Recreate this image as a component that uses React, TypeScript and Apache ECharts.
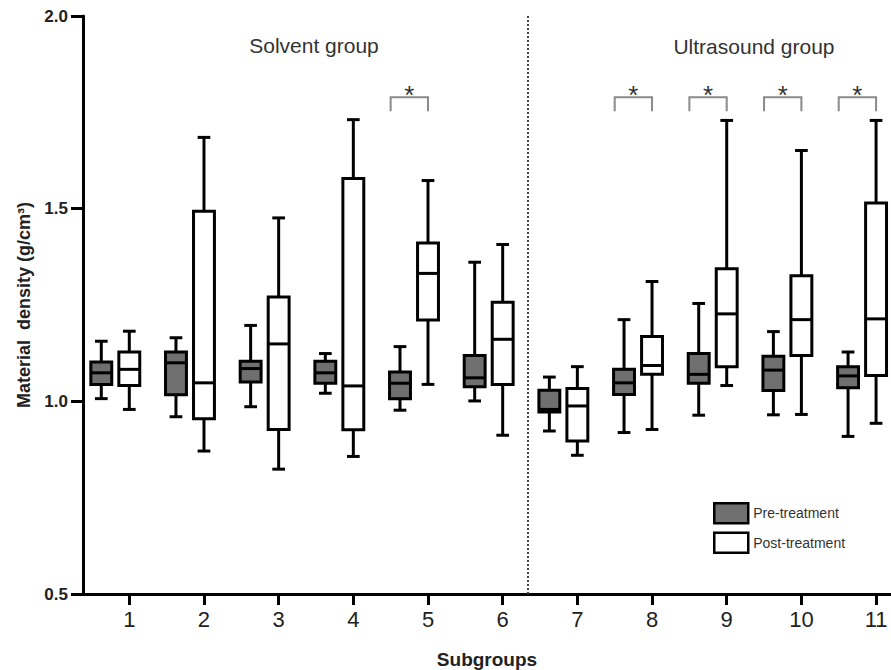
import React, { useEffect, useRef } from "react";
import * as echarts from "echarts";

// Subgroup numbers (x axis)
const categories = [1, 2, 3, 4, 5, 6, 7, 8, 9, 10, 11];
// [min, Q1, median, Q3, max] per subgroup
const preStats = [
  [1.007, 1.044, 1.074, 1.102, 1.156],
  [0.960, 1.017, 1.100, 1.128, 1.165],
  [0.986, 1.050, 1.085, 1.104, 1.197],
  [1.021, 1.047, 1.074, 1.104, 1.124],
  [0.977, 1.007, 1.047, 1.076, 1.142],
  [1.001, 1.038, 1.061, 1.119, 1.361],
  [0.923, 0.972, 0.979, 1.029, 1.063],
  [0.919, 1.018, 1.048, 1.083, 1.212],
  [0.964, 1.047, 1.070, 1.124, 1.254],
  [0.965, 1.028, 1.081, 1.117, 1.181],
  [0.909, 1.035, 1.066, 1.090, 1.128],
];
const postStats = [
  [0.979, 1.041, 1.083, 1.128, 1.182],
  [0.871, 0.955, 1.048, 1.493, 1.685],
  [0.824, 0.927, 1.149, 1.271, 1.476],
  [0.857, 0.926, 1.040, 1.578, 1.731],
  [1.044, 1.211, 1.332, 1.411, 1.573],
  [0.912, 1.044, 1.161, 1.257, 1.407],
  [0.860, 0.897, 0.988, 1.033, 1.090],
  [0.927, 1.070, 1.093, 1.168, 1.311],
  [1.041, 1.090, 1.227, 1.344, 1.729],
  [0.966, 1.119, 1.212, 1.326, 1.651],
  [0.943, 1.067, 1.214, 1.515, 1.729],
];
const significantGroups = [5, 8, 9, 10, 11];
const seriesNames = ["Pre-treatment", "Post-treatment"];
const groupTitles = ["Solvent group", "Ultrasound group"];

const FONT = "'Liberation Sans', Arial, Helvetica, sans-serif";
const PRE_FILL = "#6f6f6f";

function makeBoxRenderer(offset: number, fill: string) {
  return (_params: any, api: any) => {
    const x = api.value(0) + offset;
    const lo = api.coord([x, api.value(1)]);
    const q1 = api.coord([x, api.value(2)]);
    const med = api.coord([x, api.value(3)]);
    const q3 = api.coord([x, api.value(4)]);
    const hi = api.coord([x, api.value(5)]);
    const halfW = api.size([0.14, 0])[0];
    const capW = api.size([0.085, 0])[0];
    const cx = lo[0];
    const stroke = { stroke: "#000", lineWidth: 3 };
    return {
      type: "group",
      children: [
        { type: "line", shape: { x1: cx, y1: hi[1], x2: cx, y2: q3[1] }, style: stroke },
        { type: "line", shape: { x1: cx, y1: q1[1], x2: cx, y2: lo[1] }, style: stroke },
        { type: "line", shape: { x1: cx - capW, y1: hi[1], x2: cx + capW, y2: hi[1] }, style: stroke },
        { type: "line", shape: { x1: cx - capW, y1: lo[1], x2: cx + capW, y2: lo[1] }, style: stroke },
        {
          type: "rect",
          shape: { x: cx - halfW, y: q3[1], width: 2 * halfW, height: q1[1] - q3[1] },
          style: { fill, stroke: "#000", lineWidth: 3 },
        },
        { type: "line", shape: { x1: cx - halfW, y1: med[1], x2: cx + halfW, y2: med[1] }, style: stroke },
      ],
    };
  };
}

function renderBracket(_params: any, api: any) {
  const c = api.value(0);
  const l = api.coord([c - 0.5, 1.789]);
  const r = api.coord([c, 1.789]);
  const drop = 14;
  return {
    type: "group",
    children: [
      {
        type: "polyline",
        shape: { points: [[l[0], l[1] + drop], [l[0], l[1]], [r[0], r[1]], [r[0], r[1] + drop]] },
        style: { stroke: "#8a8a8a", lineWidth: 2, fill: "none" },
      },
      {
        type: "text",
        style: {
          text: "*",
          x: (l[0] + r[0]) / 2,
          y: l[1] - 2,
          align: "center",
          verticalAlign: "middle",
          textAlign: "center",
          textVerticalAlign: "middle",
          fontSize: 26,
          fontFamily: FONT,
          fill: "#333",
        },
      },
    ],
  };
}

export default function App() {
  const ref = useRef<HTMLDivElement>(null);
  useEffect(() => {
    if (!ref.current) return;
    const chart = echarts.init(ref.current, undefined, { renderer: "svg" });
    const preData = categories.map((c, i) => [c, ...preStats[i]]);
    const postData = categories.map((c, i) => [c, ...postStats[i]]);
    const option: any = {
      animation: false,
      backgroundColor: "#fff",
      grid: { left: 83, right: 0, top: 16, bottom: 76, containLabel: false, outerBoundsMode: "none" },
      xAxis: {
        type: "value",
        min: 0.38,
        max: 11.2,
        name: "Subgroups",
        nameLocation: "middle",
        nameGap: 56,
        nameTextStyle: { fontFamily: FONT, fontSize: 19, fontWeight: "bold", color: "#222" },
        axisLine: { onZero: false, lineStyle: { color: "#000", width: 3 } },
        axisTick: { show: true, length: 11, lineStyle: { color: "#000", width: 3 }, customValues: categories },
        axisLabel: {
          customValues: categories,
          margin: 14,
          fontFamily: FONT,
          fontSize: 22,
          color: "#222",
          formatter: (v: number) => String(v),
        },
        splitLine: { show: false },
      },
      yAxis: {
        type: "value",
        min: 0.5,
        max: 2.0,
        interval: 0.5,
        name: "Material  density (g/cm³)",
        nameLocation: "middle",
        nameGap: 50,
        nameTextStyle: { fontFamily: FONT, fontSize: 18, fontWeight: "bold", color: "#222" },
        axisLine: { onZero: false, lineStyle: { color: "#000", width: 3 } },
        axisTick: { show: true, length: 12, lineStyle: { color: "#000", width: 3 } },
        axisLabel: {
          margin: 15,
          fontFamily: FONT,
          fontSize: 17,
          fontWeight: "bold",
          color: "#222",
          formatter: (v: number) => v.toFixed(1),
        },
        splitLine: { show: false },
      },
      legend: {
        orient: "vertical",
        left: 708,
        top: 497,
        itemWidth: 34,
        itemHeight: 20,
        itemGap: 7,
        textStyle: { fontFamily: FONT, fontSize: 14, color: "#333" },
        data: [
          { name: seriesNames[0], icon: "rect", itemStyle: { color: PRE_FILL, borderColor: "#000", borderWidth: 2.5 } },
          { name: seriesNames[1], icon: "rect", itemStyle: { color: "#fff", borderColor: "#000", borderWidth: 2.5 } },
        ],
      },
      graphic: [
        {
          type: "text",
          x: 314,
          y: 45,
          style: {
            text: groupTitles[0],
            align: "center",
            verticalAlign: "middle",
            textAlign: "center",
            textVerticalAlign: "middle",
            fontSize: 21,
            fontFamily: FONT,
            fill: "#333",
          },
        },
        {
          type: "text",
          x: 754,
          y: 46,
          style: {
            text: groupTitles[1],
            align: "center",
            verticalAlign: "middle",
            textAlign: "center",
            textVerticalAlign: "middle",
            fontSize: 21,
            fontFamily: FONT,
            fill: "#333",
          },
        },
      ],
      series: [
        {
          name: seriesNames[0],
          type: "custom",
          renderItem: makeBoxRenderer(-0.375, PRE_FILL),
          encode: { x: 0, y: [1, 2, 3, 4, 5] },
          itemStyle: { color: PRE_FILL, borderColor: "#000", borderWidth: 2.5 },
          data: preData,
          z: 3,
        },
        {
          name: seriesNames[1],
          type: "custom",
          renderItem: makeBoxRenderer(0, "#fff"),
          encode: { x: 0, y: [1, 2, 3, 4, 5] },
          itemStyle: { color: "#fff", borderColor: "#000", borderWidth: 2.5 },
          data: postData,
          z: 3,
        },
        {
          name: "significance",
          type: "custom",
          renderItem: renderBracket,
          encode: { x: 0 },
          data: significantGroups.map((g) => [g]),
          silent: true,
          z: 2,
          markLine: {
            silent: true,
            symbol: ["none", "none"],
            label: { show: false },
            lineStyle: { type: "dotted", color: "#444", width: 2 },
            data: [{ xAxis: 6.335 }],
          },
        },
      ],
    };
    chart.setOption(option);
    return () => chart.dispose();
  }, []);
  return (
    <div
      ref={ref}
      style={{ position: "fixed", left: 0, top: 0, width: 891, height: 670, background: "#fff" }}
    />
  );
}
